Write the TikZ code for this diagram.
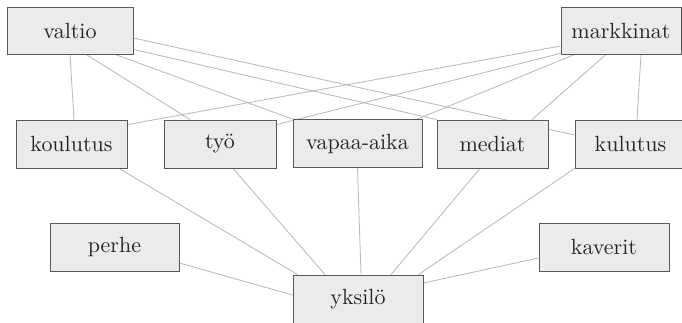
\documentclass[tikz,border=0pt]{standalone}
\usepackage{fontspec}
\setmainfont{lmroman10-regular}[Extension=.otf]
\usetikzlibrary{backgrounds}
\tikzset{
  box/.style={draw=black!65, line width=0.8pt, fill=black!8, minimum height=48, inner sep=0pt,
    text=black!85, font=\fontsize{22}{25}\selectfont},
  link/.style={draw=black!27, line width=0.85pt}
}

\begin{document}
\begin{tikzpicture}[x=1pt, y=1pt]
			%%%%% START %%%%%
			\useasboundingbox (0, 0) rectangle (682, 322);
			
			\node[box, minimum width=126, minimum height=47] (valtio) at (70, 291.5) {valtio};
			\node[box, minimum width=120, minimum height=47] (markkinat) at (621, 291.5) {markkinat};
			
			\node[box, minimum width=111] (koulutus) at (71.5, 178) {koulutus};
			\node[box, minimum width=112] (tyo) at (220, 178) {työ};
			\node[box, minimum width=129] (vapaa) at (357.5, 178.5) {vapaa-aika};
			\node[box, minimum width=111] (mediat) at (492.5, 178) {mediat};
			\node[box, minimum width=111] (kulutus) at (630.5, 178) {kulutus};
			
			\node[box, minimum width=129] (perhe) at (114.5, 75) {perhe};
			\node[box, minimum width=130] (kaverit) at (604, 75) {kaverit};
			\node[box, minimum width=130] (yksilo) at (358, 23) {yksilö};
			
			\begin{scope}[on background layer]
			% valtio
			\draw[link] (valtio.south) -- ([xshift=2.5]koulutus.north);
			\draw[link] ([xshift=16]valtio.south) -- ([xshift=-30]tyo.north);
			\draw[link] ([xshift=45]valtio.south) -- (vapaa.north west);
			\draw[link] ([yshift=5]valtio.south east) -- (mediat.north west);
			\draw[link] ([yshift=-7.5]valtio.east) -- ([yshift=9]kulutus.west);
			
			% markkinat
			\draw[link] ([yshift=-15.5]markkinat.west) -- ([yshift=-5]koulutus.north east);
			\draw[link] ([yshift=1]markkinat.south west) -- ([yshift=-5]tyo.north east);
			\draw[link] ([xshift=14]markkinat.south west) -- ([xshift=-5]vapaa.north east);
			\draw[link] ([xshift=-15]markkinat.south) -- ([xshift=39.5]mediat.north);
			\draw[link] ([xshift=20]markkinat.south) -- ([xshift=6.5]kulutus.north);
			
			% yksilo
			\draw[link] ([xshift=47.5]koulutus.south) -- ([xshift=5]yksilo.north west);
			\draw[link] ([xshift=13]tyo.south) -- ([xshift=-33]yksilo.north);
			\draw[link] (vapaa.south) -- ([xshift=3]yksilo.north);
			\draw[link] ([xshift=-12.5]mediat.south) -- ([xshift=33]yksilo.north);
			\draw[link] (kulutus.south west) -- ([xshift=-5]yksilo.north east);
			\draw[link] ([yshift=-16]perhe.east) -- ([yshift=4]yksilo.west);
			\draw[link] ([yshift=-11]kaverit.west) -- ([yshift=16]yksilo.east);
			\end{scope}
			%%%%% END %%%%%
\end{tikzpicture}
\end{document}
